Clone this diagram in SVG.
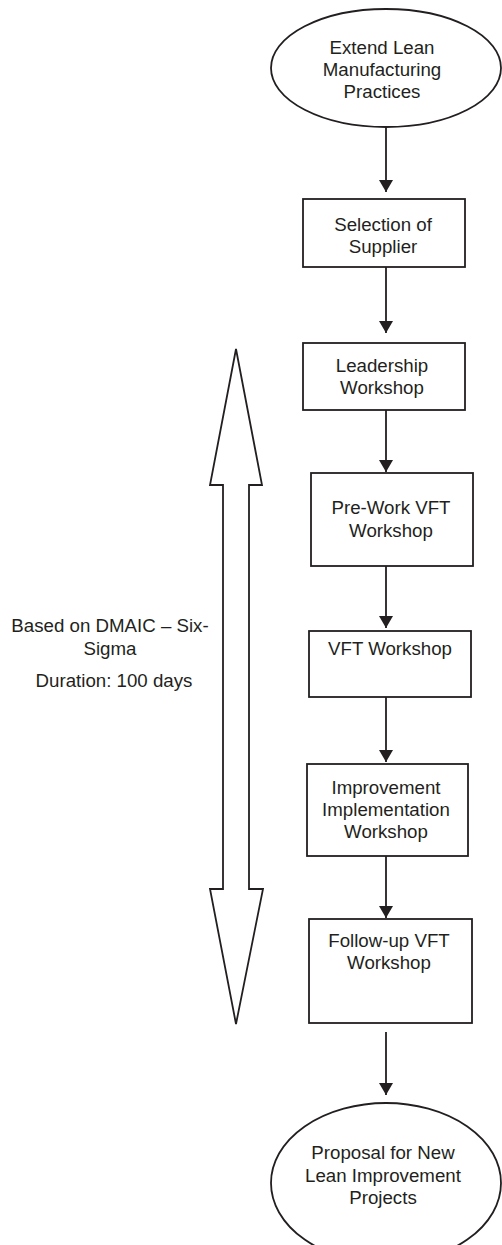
<svg xmlns="http://www.w3.org/2000/svg" width="502" height="1245" viewBox="0 0 502 1245">
<style>
.n{fill:#fff;stroke:#231f20;stroke-width:1.8}
.t{font-family:"Liberation Sans",Arial,sans-serif;font-size:18.7px;fill:#231f20;text-anchor:middle}
.c{stroke:#231f20;stroke-width:1.8;fill:none}
</style>
<defs>
<marker id="ah" viewBox="0 0 12 14" refX="12" refY="7" markerWidth="12" markerHeight="14" markerUnits="userSpaceOnUse" orient="auto">
<path d="M0,0 L12,7 L0,14 Z" fill="#231f20"/>
</marker>
</defs>
<rect width="502" height="1245" fill="#fff"/>
<g id="span">
<polygon class="n" points="236,349 262,485 249,485 249,889 263,889 236,1024 210,889 223,889 223,485 210,485" stroke-width="1.5"/>
<text class="t" x="110" y="632">Based on DMAIC – Six-</text>
<text class="t" x="110" y="655">Sigma</text>
<text class="t" x="114" y="687">Duration: 100 days</text>
</g>
<g id="connectors">
<line class="c" x1="386" y1="127" x2="386" y2="192" marker-end="url(#ah)"/>
<line class="c" x1="386" y1="267" x2="386" y2="333" marker-end="url(#ah)"/>
<line class="c" x1="386" y1="410" x2="386" y2="472" marker-end="url(#ah)"/>
<line class="c" x1="386" y1="566" x2="386" y2="628" marker-end="url(#ah)"/>
<line class="c" x1="386" y1="697" x2="386" y2="762" marker-end="url(#ah)"/>
<line class="c" x1="386" y1="856" x2="386" y2="918" marker-end="url(#ah)"/>
<line class="c" x1="386" y1="1032" x2="386" y2="1095" marker-end="url(#ah)"/>
</g>
<g id="start">
<ellipse class="n" cx="386" cy="68" rx="115" ry="59"/>
<text class="t" x="382" y="54">Extend Lean</text>
<text class="t" x="382" y="76">Manufacturing</text>
<text class="t" x="382" y="98">Practices</text>
</g>
<g id="selection">
<rect class="n" x="303" y="199" width="162" height="68"/>
<text class="t" x="383" y="231">Selection of</text>
<text class="t" x="383" y="253">Supplier</text>
</g>
<g id="leadership">
<rect class="n" x="303" y="343" width="162" height="67"/>
<text class="t" x="382" y="372">Leadership</text>
<text class="t" x="382" y="394">Workshop</text>
</g>
<g id="prework">
<rect class="n" x="311" y="473" width="162" height="93"/>
<text class="t" x="391" y="514">Pre-Work VFT</text>
<text class="t" x="391" y="537">Workshop</text>
</g>
<g id="vft">
<rect class="n" x="309" y="631" width="162" height="66"/>
<text class="t" x="390" y="655">VFT Workshop</text>
</g>
<g id="improvement">
<rect class="n" x="307" y="764" width="161" height="92"/>
<text class="t" x="386" y="794">Improvement</text>
<text class="t" x="386" y="816">Implementation</text>
<text class="t" x="386" y="838">Workshop</text>
</g>
<g id="followup">
<rect class="n" x="309" y="919" width="163" height="104"/>
<text class="t" x="389" y="947">Follow-up VFT</text>
<text class="t" x="389" y="969">Workshop</text>
</g>
<g id="end">
<ellipse class="n" cx="386" cy="1183" rx="115" ry="80"/>
<text class="t" x="383" y="1159">Proposal for New</text>
<text class="t" x="383" y="1182">Lean Improvement</text>
<text class="t" x="383" y="1204">Projects</text>
</g>
</svg>
